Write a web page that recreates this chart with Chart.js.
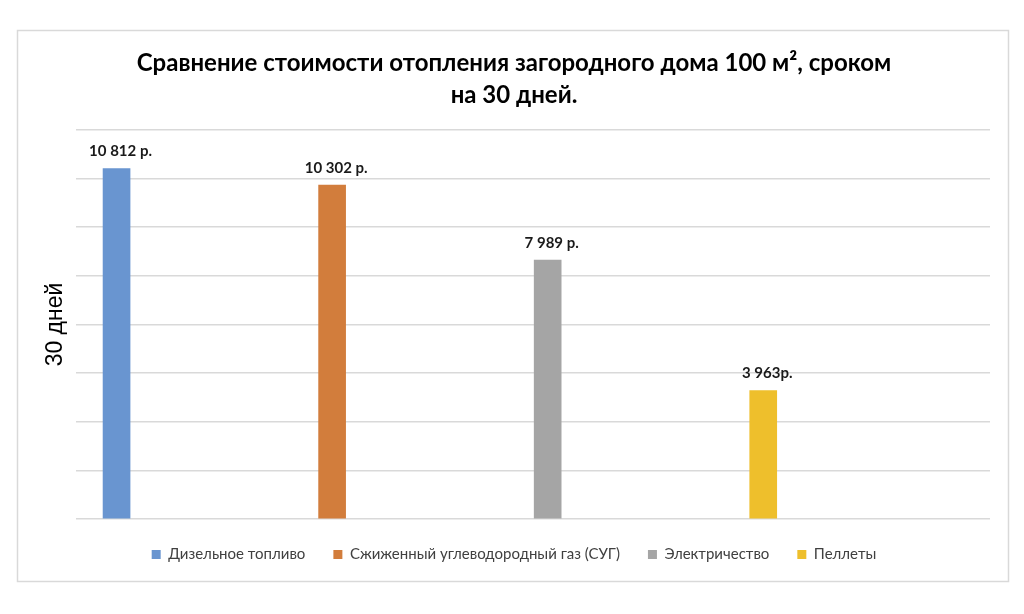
<!DOCTYPE html>
<html>
<head>
<meta charset="utf-8">
<script src="https://cdn.jsdelivr.net/npm/chart.js@4"></script>
<style>
  html, body { margin: 0; padding: 0; background: #ffffff; }
  #wrap { width: 1024px; height: 614px; position: relative; }
</style>
</head>
<body>
<div id="wrap"><canvas id="c" width="1024" height="614"></canvas></div>
<script>
// ---- data ----
const seriesNames = ['Дизельное топливо', 'Сжиженный углеводородный газ (СУГ)', 'Электричество', 'Пеллеты'];
const seriesValues = [10812, 10302, 7989, 3963];
const valueLabels = ['10 812 р.', '10 302 р.', '7 989 р.', '3 963р.'];
const seriesColors = ['#6995d0', '#d27d3c', '#a5a5a5', '#eebf2c'];
const titleLines = ['Сравнение стоимости отопления загородного дома 100 м², сроком', 'на 30 дней.'];
const yTitle = '30 дней';
const yMin = 0, yMax = 12000, yStep = 1500;

const datasets = seriesNames.map((name, i) => ({
  label: name,
  data: [{ x: i, y: seriesValues[i] }],
  backgroundColor: seriesColors[i],
  borderWidth: 0,
  barThickness: 27
}));

const framePlugin = {
  id: 'frame',
  beforeDraw(chart) {
    const ctx = chart.ctx;
    ctx.save();
    ctx.fillStyle = '#ffffff';
    ctx.fillRect(0, 0, chart.width, chart.height);
    ctx.strokeStyle = '#d9d9d9';
    ctx.lineWidth = 1.5;
    ctx.strokeRect(17.5, 30.5, 991, 551);
    ctx.restore();
  }
};

const labelPlugin = {
  id: 'valueLabels',
  afterDatasetsDraw(chart) {
    const ctx = chart.ctx;
    ctx.save();
    ctx.font = 'bold 15px Lato, "Open Sans", sans-serif';
    ctx.fillStyle = '#1a1a1a';
    ctx.textAlign = 'center';
    ctx.textBaseline = 'middle';
    chart.data.datasets.forEach((ds, i) => {
      const bar = chart.getDatasetMeta(i).data[0];
      if (!bar) return;
      ctx.fillText(valueLabels[i], bar.x + 4, bar.y - 17);
    });
    ctx.restore();
  }
};

new Chart(document.getElementById('c'), {
  type: 'bar',
  data: { datasets },
  options: {
    responsive: false,
    animation: false,
    devicePixelRatio: 1,
    grouped: false,
    layout: { padding: { left: 38, right: 34, top: 47, bottom: 42 } },
    scales: {
      x: {
        type: 'linear',
        min: -0.19,
        max: 4.052,
        display: false,
        offset: false,
        grid: { display: false }
      },
      y: {
        min: yMin,
        max: yMax,
        ticks: { display: false, stepSize: yStep },
        grid: { color: '#d9d9d9', lineWidth: 1.5, drawTicks: false },
        border: { display: false },
        title: {
          display: true,
          text: yTitle,
          color: '#000000',
          font: { family: '"Liberation Sans", Arial, sans-serif', size: 23, weight: 'normal' },
          padding: { top: 4, bottom: 6 }
        }
      }
    },
    plugins: {
      title: {
        display: true,
        text: titleLines,
        color: '#000000',
        font: { family: 'Lato, "Open Sans", sans-serif', size: 24, weight: 'bold', lineHeight: 1.333 },
        padding: { top: 0, bottom: 19 }
      },
      legend: {
        display: true,
        position: 'bottom',
        labels: {
          boxWidth: 9,
          boxHeight: 9,
          padding: 28,
          color: '#404040',
          font: { family: 'Lato, "Open Sans", sans-serif', size: 15 }
        }
      },
      tooltip: { enabled: false }
    }
  },
  plugins: [framePlugin, labelPlugin]
});
</script>
</body>
</html>
